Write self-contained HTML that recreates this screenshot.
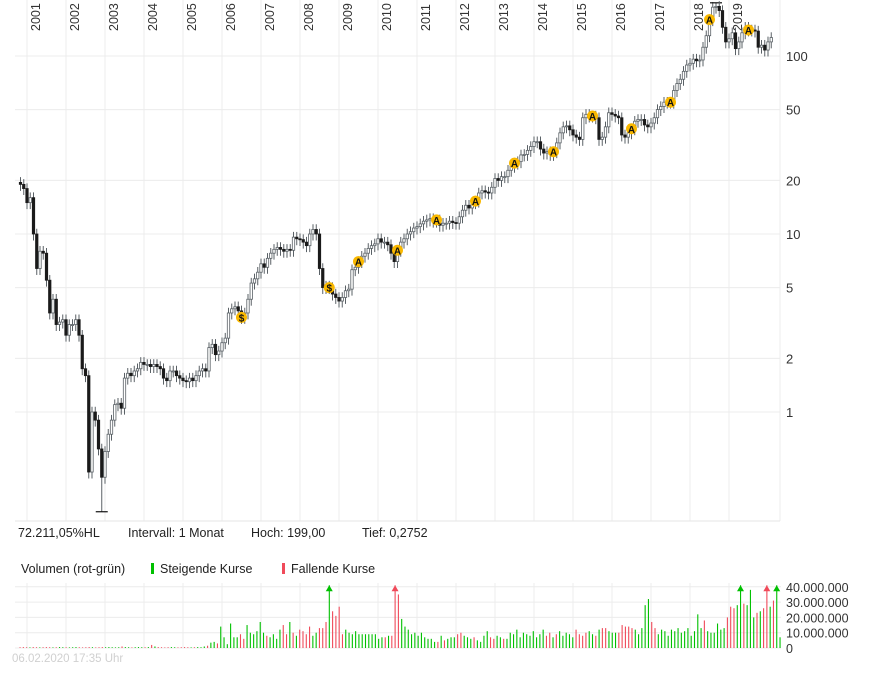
<!DOCTYPE html>
<html><head><meta charset="utf-8">
<style>
html,body{margin:0;padding:0;background:#fff;}
body{width:895px;height:669px;overflow:hidden;font-family:"Liberation Sans",sans-serif;}
svg text{font-family:"Liberation Sans",sans-serif;}
</style></head>
<body>
<svg id="chart" width="895" height="669" viewBox="0 0 895 669" xmlns="http://www.w3.org/2000/svg">
  <g id="grid"></g>
  <g id="years"></g>
  <g id="yaxis"></g>
  <g id="candles"></g>
  <g id="markers"></g>
  <line x1="15" y1="521" x2="780" y2="521" stroke="#e6e6e6"/>
  <g font-size="12.5" fill="#222">
    <text x="18" y="537">72.211,05%HL</text>
    <text x="128" y="537">Intervall: 1 Monat</text>
    <text x="251" y="537">Hoch:  199,00</text>
    <text x="362" y="537">Tief: 0,2752</text>
  </g>
  <g font-size="12.5" fill="#222">
    <text x="21" y="573">Volumen (rot-grün)</text>
    <rect x="151" y="563" width="3" height="11" fill="#00c000"/>
    <text x="160" y="573">Steigende Kurse</text>
    <rect x="282" y="563" width="3" height="11" fill="#f04a5a"/>
    <text x="291" y="573">Fallende Kurse</text>
  </g>
  <g id="vgrid"></g>
  <g id="vbars"></g>
  <text x="12" y="662" font-size="11.5" fill="#d0d0d0">06.02.2020 17:35 Uhr</text>
</svg>
<script>
const yearLabels = ["2001","2002","2003","2004","2005","2006","2007","2008","2009","2010","2011","2012","2013","2014","2015","2016","2017","2018","2019"];
const priceTicks = [100,50,20,10,5,2,1];
const priceTickLabels = ["100","50","20","10","5","2","1"];
const volumeTicks = [40,30,20,10,0];
const volumeTickLabels = ["40.000.000","30.000.000","20.000.000","10.000.000","0"];
// monthly closes, Nov 2000 .. Feb 2020
const closes = [
19,18,
15,16,10,6.4,8,7.8,5.5,3.6,4.3,3.1,3.2,3.3,
2.7,3.1,3.1,3.3,2.7,1.75,1.6,0.46,1.0,0.9,0.62,0.43,
0.6,0.75,0.9,1.1,1.12,1.05,1.55,1.65,1.6,1.7,1.75,1.9,
1.85,1.85,1.8,1.85,1.8,1.75,1.55,1.5,1.7,1.7,1.6,1.55,
1.5,1.48,1.55,1.5,1.6,1.7,1.75,1.7,2.3,2.4,2.1,2.2,
2.45,2.6,3.6,3.8,3.9,3.7,3.4,3.6,4.3,5.3,5.6,6.1,
6.8,6.5,7.3,7.8,8.2,8.4,8.2,8.0,8.2,8.1,9.6,9.4,
9.3,9.0,8.6,10,10.6,10,6.4,5.0,5.1,5.0,4.6,4.4,
4.2,4.4,4.8,4.9,6.3,6.5,7.0,7.5,7.8,8.3,8.6,8.8,
9.4,9.0,9.0,8.7,7.8,7.0,8.1,9.0,9.4,10,10.3,10.8,
11,11.4,11.8,12,12.2,11.8,12,11.2,11.5,11.5,11.8,11.6,
11.5,12.5,13.6,14.5,14,15,15.3,17,17.5,17.2,17,18.3,
20.5,20,21,21,22.8,24,25,25.5,27.8,28,29.5,31,
33,33,30,28.5,29,28,29,32.5,37,40,40.5,38.5,
36,35,34,45,47,46,46,45,34,35,40,48,
47,46,45,36,35,37,39,43,44,44,41,40,
42,45,50,52,55,55,55,64,70,74,82,89,
91,96,94,95,112,130,160,188,190,180,145,120,
125,135,110,120,135,145,140,140,138,112,115,108,
120,127];
const firstOpen = 19.5;
const allTimeLow = 0.2752, allTimeHigh = 199;
// monthly volume in millions
const volumes = [
0.5,0.6,0.5,0.4,0.6,0.5,0.4,0.5,0.6,0.5,0.4,0.5,0.6,0.5,
0.5,0.4,0.5,0.6,0.5,0.4,0.5,0.6,0.5,0.4,0.5,0.6,
0.5,0.6,0.5,0.4,0.5,1.0,0.6,0.5,0.4,0.5,0.6,0.5,
0.5,0.6,2.0,1.0,0.6,0.5,0.4,0.5,0.6,0.5,0.4,0.5,
0.6,0.5,0.4,0.5,0.6,0.5,
1,1.5,3.5,4,3,14,7,2.5,16,7,7,9,6,15,10,9,11,17,10,8,7,9,6,12,15,9,17,10,8,12,
11,9,14,8,10,13,13,17,
50,24,21,27,9,12,10,9,11,9,9,9,9,9,9,6,7,7,8,8,
50,35,19,14,12,9,10,8,10,7,6,6,4,4,8,5,6,7,7,9,10,8,7,6,7,5,4,8,11,7,6,8,7,6,6,10,9,12,7,10,
9,8,11,7,9,12,8,10,7,9,11,8,10,9,7,12,9,8,10,11,9,8,12,
13,13,11,10,10,10,15,14,14,13,12,9,13,28,32,17,13,9,12,11,8,12,11,13,10,11,13,8,11,22,13,18,11,10,10,16,12,13,20,27,26,28,
50,29,28,38,20,23,24,26,50,27,31,42,7];
const markerIdx = [68,95,104,116,128,140,152,164,176,188,200,212,224];
const markerLabels = ["$","$","A","A","A","A","A","A","A","A","A","A","A"];

const NS="http://www.w3.org/2000/svg";
function mk(tag,attrs,parent){const e=document.createElementNS(NS,tag);for(const k in attrs)e.setAttribute(k,attrs[k]);parent.appendChild(e);return e;}
const xOf = i => 20.5 + i*3.25;
const yOf = v => 56 + (2 - Math.log10(v))*178;
const vx = i => 20 + i*3.29;
const vy = m => 648 - Math.min(m,41)*1.53;

const grid=document.getElementById('grid'), years=document.getElementById('years'), yaxis=document.getElementById('yaxis');
yearLabels.forEach((lab,k)=>{
  const x=27+k*39;
  const l=mk('line',{x1:x,y1:0,x2:x,y2:521,stroke:'#ececec'},grid);
  
  
  const t=mk('text',{x:0,y:0,transform:`translate(${x+13},31) rotate(-90)`,'font-size':12.5,fill:'#333'},years);
  t.textContent=lab;
  
  
});
const rb=mk('line',{x1:780,y1:0,x2:780,y2:521,stroke:'#ececec'},grid);


priceTicks.forEach((v,k)=>{
  const y=yOf(v);
  const l=mk('line',{x1:15,y1:y,x2:780,y2:y,stroke:'#ececec'},grid);
  
  
  const t=mk('text',{x:786,y:y+5,'font-size':13,fill:'#333'},yaxis);
  t.textContent=priceTickLabels[k];
  
  
});

const cg=document.getElementById('candles');
const ups=[];
closes.forEach((c,i)=>{
  const o = i===0?firstOpen:closes[i-1];
  const up = c>=o;
  ups.push(up);
  let hi=Math.max(o,c)*1.07, lo=Math.min(o,c)*0.92;
  if(i===25) lo=allTimeLow;
  if(i===214) hi=allTimeHigh;
  const x=xOf(i);
  const w=mk('line',{x1:x,y1:yOf(hi),x2:x,y2:yOf(lo),stroke:'#5a6166','stroke-width':1},cg);
  
  
  const yt=yOf(Math.max(o,c)), yb=yOf(Math.min(o,c));
  const r=mk('rect',{x:x-1.2,y:yt,width:2.4,height:Math.max(yb-yt,1),fill:up?'#fff':'#1a1a1a',stroke:up?'#5a6166':'#1a1a1a','stroke-width':0.8},cg);
  
  
  if(i===25||i===214){
    const yy = yOf(i===25?lo:hi);
    const tk=mk('line',{x1:x-6,y1:yy,x2:x+6,y2:yy,stroke:'#111','stroke-width':1.2},cg);
    
    
  }
});

const mg=document.getElementById('markers');
markerIdx.forEach((i,k)=>{
  const x=xOf(i), y=yOf(closes[i]);
  const g=mk('g',{},mg);
  
  
  mk('circle',{cx:x,cy:y,r:5.5,fill:'#f9b800'},g);
  const t=mk('text',{x:x,y:y+4,'font-size':10,'font-weight':'bold','text-anchor':'middle',fill:'#111'},g);
  t.textContent=markerLabels[k];
});

const vg=document.getElementById('vgrid');
volumeTicks.forEach((m,k)=>{
  const y=648-m*1.53;
  const l=mk('line',{x1:15,y1:y,x2:781,y2:y,stroke:'#ececec'},vg);
  
  
  const t=mk('text',{x:786,y:y+5,'font-size':12.5,fill:'#333'},vg);
  t.textContent=volumeTickLabels[k];
  
  
});
yearLabels.forEach((lab,k)=>{
  const x=27+k*39;
  const l=mk('line',{x1:x,y1:583,x2:x,y2:648,stroke:'#ececec'},vg);
  
  
});
const vb=document.getElementById('vbars');
volumes.forEach((m,i)=>{
  const x=vx(i), col=(ups[i]===false)?'#f04a5a':'#00c000';
  const y=vy(m);
  const b=mk('rect',{x:x-0.5,y:y,width:1.1,height:648-y,fill:col},vb);
  
  
  if(m>41){
    const a=mk('path',{d:`M${x-3.5},${y+6} L${x},${y} L${x+3.5},${y+6} Z`,fill:col},vb);
    
    
  }
});
</script>
</body></html>
